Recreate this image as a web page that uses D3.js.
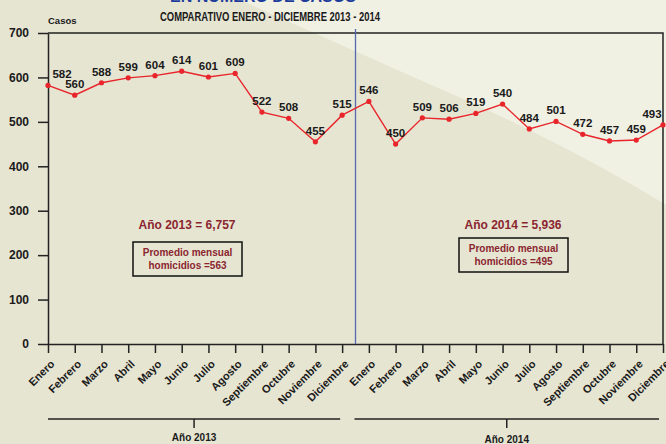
<!DOCTYPE html>
<html>
<head>
<meta charset="utf-8">
<script src="https://d3js.org/d3.v7.min.js"></script>
<style>
    body { margin: 0; background: #E6E5D2; }
    svg text { font-family: 'Liberation Sans', Arial, sans-serif; font-weight: bold; }
</style>
</head>
<body>
<div id="chart"></div>
<script>

    var months = ["Enero", "Febrero", "Marzo", "Abril", "Mayo", "Junio", "Julio",
                  "Agosto", "Septiembre", "Octubre", "Noviembre", "Diciembre"];
    var casos2013 = [582, 560, 588, 599, 604, 614, 601, 609, 522, 508, 455, 515];
    var casos2014 = [546, 450, 509, 506, 519, 540, 484, 501, 472, 457, 459, 493];
    var yTicks = [0, 100, 200, 300, 400, 500, 600, 700];
    var years = ["Año 2013", "Año 2014"];
    var totals = ["Año 2013 = 6,757", "Año 2014 = 5,936"];
    var promedios = [["Promedio mensual", "homicidios =563"], ["Promedio mensual", "homicidios =495"]];

    var width = 666, height = 444;
    var ink = "#1a1a1a", maroon = "#8B2630", red = "#E8252B";

    // one row per month, both years in a row
    var data = casos2013.map((v, i) => ({ key: "a" + i, mes: months[i], v: v }))
        .concat(casos2014.map((v, i) => ({ key: "b" + i, mes: months[i], v: v })));

    var x = d3.scalePoint().domain(data.map(d => d.key)).range([48, 663]);
    var y = d3.scaleLinear().domain([0, 700]).range([344, 33]);

    var svg = d3.select("#chart").append("svg")
        .attr("width", width)
        .attr("height", height);

    // background, lighter wedge top right
    svg.append("rect").attr("width", width).attr("height", height).attr("fill", "#E6E5D2");
    svg.append("path")
        .attr("d", "M240,0 L420,80 Q560,140 666,205 L666,0 Z")
        .attr("fill", "#F0F0E3");

    // titles
    svg.append("text")
        .attr("x", 263).attr("y", 2)
        .attr("text-anchor", "middle")
        .attr("font-size", 16)
        .attr("fill", "#1D3C9C")
        .text("EN NÚMERO DE CASOS");

    svg.append("text")
        .attr("x", 270).attr("y", 21)
        .attr("text-anchor", "middle")
        .attr("font-size", 12)
        .attr("textLength", 220)
        .attr("lengthAdjust", "spacingAndGlyphs")
        .attr("fill", ink)
        .text("COMPARATIVO ENERO - DICIEMBRE 2013 - 2014");

    svg.append("text")
        .attr("x", 48).attr("y", 24)
        .attr("font-size", 9.5)
        .attr("fill", ink)
        .text("Casos");

    // frame top + right
    svg.append("path")
        .attr("d", `M48,${y(700)}H663V${y(0)}`)
        .attr("fill", "none")
        .attr("stroke", "#222")
        .attr("stroke-width", 1.5);

    // y axis
    var yAxis = svg.append("g")
        .attr("transform", "translate(48,0)")
        .call(d3.axisLeft(y).tickValues(yTicks).tickSize(10).tickSizeOuter(0).tickPadding(9));
    yAxis.selectAll("path, line").attr("stroke", "#222").attr("stroke-width", 1.5);
    yAxis.selectAll("text").attr("font-size", 12).attr("fill", ink)
        .style("font-family", "'Liberation Sans', Arial, sans-serif");

    // x axis
    var xAxis = svg.append("g")
        .attr("transform", `translate(0,${y(0)})`)
        .call(d3.axisBottom(x).tickSize(9).tickSizeOuter(0)
            .tickFormat(k => data.find(d => d.key === k).mes));
    xAxis.selectAll("path, line").attr("stroke", "#222").attr("stroke-width", 1.5);
    xAxis.selectAll("text")
        .attr("font-size", 11)
        .attr("fill", ink)
        .style("font-family", "'Liberation Sans', Arial, sans-serif")
        .attr("text-anchor", "end")
        .attr("dy", "0.35em")
        .attr("y", 0)
        .attr("transform", "translate(4,18) rotate(-45)");

    // divider between years
    var mid = (x("a11") + x("b0")) / 2;
    svg.append("line")
        .attr("x1", mid).attr("x2", mid)
        .attr("y1", 29).attr("y2", y(0))
        .attr("stroke", "#5568B0")
        .attr("stroke-width", 1.3);

    // line + points
    var line = d3.line().x(d => x(d.key)).y(d => y(d.v));
    svg.append("path")
        .datum(data)
        .attr("d", line)
        .attr("fill", "none")
        .attr("stroke", red)
        .attr("stroke-width", 1.4);

    svg.selectAll(".pt")
        .data(data)
        .join("circle")
        .attr("class", "pt")
        .attr("cx", d => x(d.key))
        .attr("cy", d => y(d.v))
        .attr("r", 2.6)
        .attr("fill", red);

    svg.selectAll(".val")
        .data(data)
        .join("text")
        .attr("class", "val")
        .attr("x", (d, i) => x(d.key) + (i === 0 ? 14 : i === data.length - 1 ? -11 : 0))
        .attr("y", d => y(d.v) - 7)
        .attr("text-anchor", "middle")
        .attr("font-size", 11.5)
        .attr("fill", ink)
        .text(d => d.v);

    // totals and averages
    var groups = [{ c: 187, box: [133, 242, 109, 34] }, { c: 513, box: [459, 238, 109, 34] }];
    groups.forEach(function (g, i) {
        svg.append("text")
            .attr("x", g.c).attr("y", 229)
            .attr("text-anchor", "middle")
            .attr("font-size", 12)
            .attr("fill", maroon)
            .text(totals[i]);
        svg.append("rect")
            .attr("x", g.box[0]).attr("y", g.box[1])
            .attr("width", g.box[2]).attr("height", g.box[3])
            .attr("fill", "none")
            .attr("stroke", "#111")
            .attr("stroke-width", 1.5);
        promedios[i].forEach(function (t, j) {
            svg.append("text")
                .attr("x", g.box[0] + g.box[2] / 2)
                .attr("y", g.box[1] + 14 + j * 12.5)
                .attr("text-anchor", "middle")
                .attr("font-size", 10)
                .attr("fill", maroon)
                .text(t);
        });
    });

    // year brackets under the axis
    var spans = [[x("a0"), x("a11") - 2], [mid - 1, x("b11") - 4]];
    spans.forEach(function (s, i) {
        var c = (s[0] + s[1]) / 2;
        svg.append("line")
            .attr("x1", s[0]).attr("x2", s[1])
            .attr("y1", 419).attr("y2", 419)
            .attr("stroke", "#222").attr("stroke-width", 1.5);
        svg.append("line")
            .attr("x1", c).attr("x2", c)
            .attr("y1", 419).attr("y2", 428)
            .attr("stroke", "#222").attr("stroke-width", 1.5);
        svg.append("text")
            .attr("x", c).attr("y", 441 + i * 2)
            .attr("text-anchor", "middle")
            .attr("font-size", 10)
            .attr("fill", ink)
            .text(years[i]);
    });

</script>
</body>
</html>
